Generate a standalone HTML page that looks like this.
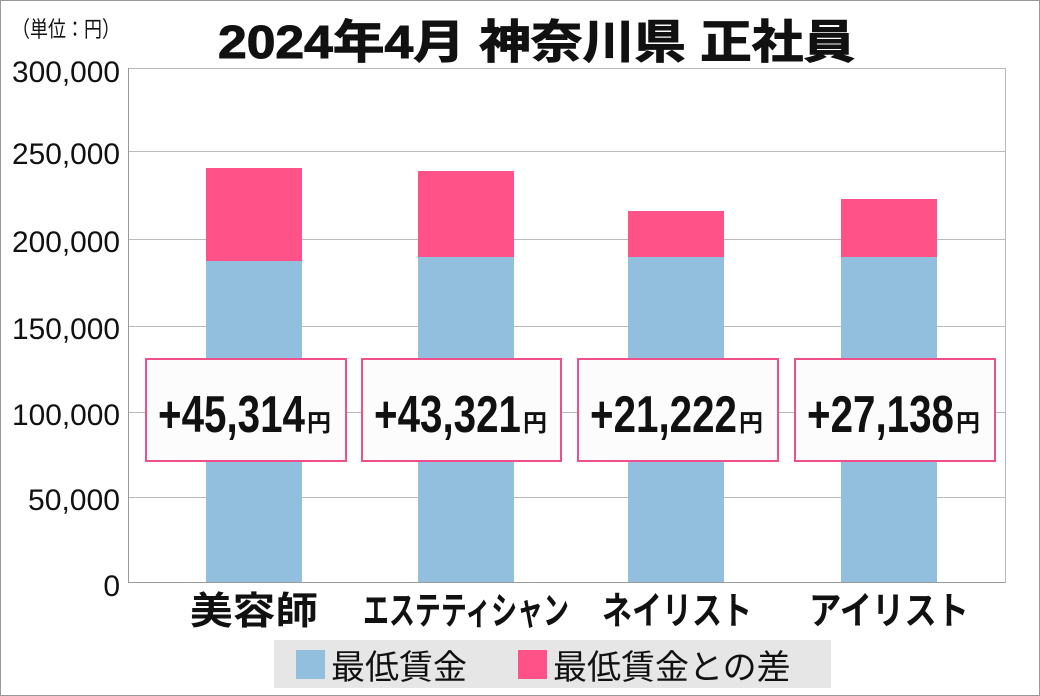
<!DOCTYPE html>
<html><head><meta charset="utf-8"><style>
html,body{margin:0;padding:0;background:#fff}
svg{display:block}
text{font-family:"Liberation Sans","Noto Sans CJK JP",sans-serif}
</style></head><body>
<svg width="1040" height="696" viewBox="0 0 1040 696" xmlns="http://www.w3.org/2000/svg">
<rect x="0.5" y="0.5" width="1039" height="695" fill="#fff" stroke="#999"/>
<text x="12" y="37" font-size="22" fill="#111" textLength="108" lengthAdjust="spacingAndGlyphs">（単位：円）</text>
<text x="218" y="58" font-size="46" font-weight="bold" fill="#111" stroke="#111" stroke-width="1" textLength="637" lengthAdjust="spacingAndGlyphs">2024年4月 神奈川県 正社員</text>
<g stroke="#bbb" stroke-width="1">
<line x1="128" y1="68.5" x2="1005" y2="68.5"/>
<line x1="128" y1="151.5" x2="1005" y2="151.5"/>
<line x1="128" y1="239.5" x2="1005" y2="239.5"/>
<line x1="128" y1="326.5" x2="1005" y2="326.5"/>
<line x1="128" y1="412.5" x2="1005" y2="412.5"/>
<line x1="128" y1="497.5" x2="1005" y2="497.5"/>
</g>
<line x1="1005.5" y1="68" x2="1005.5" y2="583" stroke="#bbb"/>
<line x1="128.5" y1="68" x2="128.5" y2="583" stroke="#999"/>
<line x1="128" y1="582.5" x2="1005" y2="582.5" stroke="#999"/>
<g font-size="30" text-anchor="end" fill="#111">
<text x="120" y="82" textLength="108" lengthAdjust="spacingAndGlyphs">300,000</text>
<text x="120" y="164" textLength="108" lengthAdjust="spacingAndGlyphs">250,000</text>
<text x="120" y="252" textLength="108" lengthAdjust="spacingAndGlyphs">200,000</text>
<text x="120" y="339" textLength="108" lengthAdjust="spacingAndGlyphs">150,000</text>
<text x="120" y="425" textLength="108" lengthAdjust="spacingAndGlyphs">100,000</text>
<text x="120" y="510" textLength="92" lengthAdjust="spacingAndGlyphs">50,000</text>
<text x="120" y="596">0</text>
</g>
<g fill="#93bfdf">
<rect x="206" y="261" width="96" height="321"/>
<rect x="418" y="257" width="96" height="325"/>
<rect x="628" y="257" width="96" height="325"/>
<rect x="841" y="257" width="96" height="325"/>
</g>
<g fill="#ff5289">
<rect x="206" y="168" width="96" height="93"/>
<rect x="418" y="171" width="96" height="86"/>
<rect x="628" y="211" width="96" height="46"/>
<rect x="841" y="199" width="96" height="58"/>
</g>
<g fill="#fcfcfc" stroke="#f0508a" stroke-width="2">
<rect x="146" y="359" width="200" height="102"/>
<rect x="362" y="359" width="199" height="102"/>
<rect x="578" y="359" width="200" height="102"/>
<rect x="795" y="359" width="200" height="102"/>
</g>
<g font-size="52" font-weight="bold" fill="#111">
<text x="158" y="432" textLength="147" lengthAdjust="spacingAndGlyphs">+45,314</text>
<text x="374" y="432" textLength="147" lengthAdjust="spacingAndGlyphs">+43,321</text>
<text x="590" y="432" textLength="147" lengthAdjust="spacingAndGlyphs">+21,222</text>
<text x="807" y="432" textLength="147" lengthAdjust="spacingAndGlyphs">+27,138</text>
</g>
<g font-size="24" font-weight="bold" fill="#111">
<text x="307" y="431">円</text>
<text x="523" y="431">円</text>
<text x="739" y="431">円</text>
<text x="956" y="431">円</text>
</g>
<g font-size="38" font-weight="bold" fill="#111" text-anchor="middle">
<text x="254" y="624" textLength="128" lengthAdjust="spacingAndGlyphs">美容師</text>
<text x="466" y="624" textLength="206" lengthAdjust="spacingAndGlyphs">エステティシャン</text>
<text x="677" y="624" textLength="150" lengthAdjust="spacingAndGlyphs">ネイリスト</text>
<text x="889" y="624" textLength="160" lengthAdjust="spacingAndGlyphs">アイリスト</text>
</g>
<rect x="274" y="640" width="557" height="48" fill="#e6e6e6"/>
<rect x="296" y="650" width="29" height="29" fill="#93bfdf"/>
<text x="331" y="679" font-size="34" fill="#111">最低賃金</text>
<rect x="518" y="650" width="29" height="29" fill="#ff5289"/>
<text x="553" y="679" font-size="34" fill="#111">最低賃金との差</text>
</svg>
</body></html>
